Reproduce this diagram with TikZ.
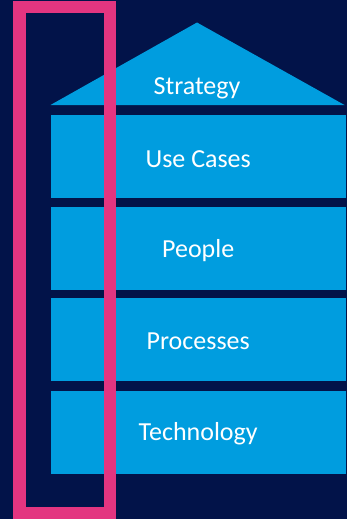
\documentclass[tikz,border=0pt]{standalone}
\usepackage{fontspec}
\setmainfont{Carlito}
\definecolor{navy}{HTML}{021349}
\definecolor{skyblue}{HTML}{009DDF}
\definecolor{hotpink}{HTML}{E33580}
\begin{document}
\begin{tikzpicture}[x=1pt,y=-1pt,
  band/.style={fill=skyblue, draw=none, minimum width=295pt, minimum height=83pt, inner sep=0pt, anchor=north west},
  label/.style={text=white, font=\fontsize{26}{29}\selectfont, inner sep=0pt}]
\fill[navy] (0,0) rectangle (347,519);
\useasboundingbox (0,0) rectangle (347,519);
\fill[skyblue] (50.5,105) coordinate (rl) -- (197,22.5) coordinate (apex) -- (344.5,105) coordinate (rr) -- cycle;
\node[label] (strategy) at (197,88) {Strategy};
\node[band] (usecases) at (50.5,115) {};
\node[band] (people) at (50.5,206.5) {};
\node[band] (processes) at (50.5,298) {};
\node[band] (technology) at (50.5,390.5) {};
\node[label] (usecasest) at ([yshift=-2pt]usecases.center) {Use Cases};
\node[label] (peoplet) at ([yshift=-2pt]people.center) {People};
\node[label] (processest) at ([yshift=-2pt]processes.center) {Processes};
\node[label] (technologyt) at ([yshift=-2pt]technology.center) {Technology};
\draw[hotpink, line width=12.5pt] (19.5,7) rectangle (110,513);
\end{tikzpicture}
\end{document}
